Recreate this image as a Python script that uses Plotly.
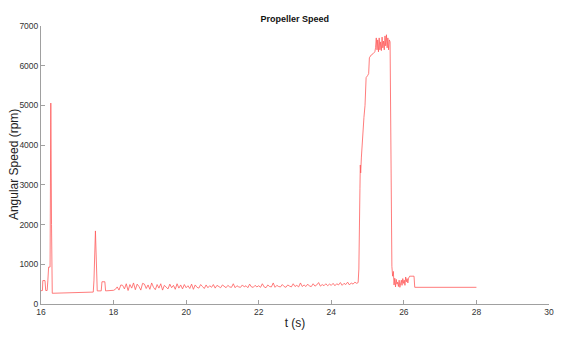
import numpy as np
import plotly.graph_objects as go

# start-up transient (time in s, speed in rpm)
t_start = [16.00, 16.04, 16.05, 16.11, 16.13, 16.17, 16.19, 16.21, 16.25, 16.27, 16.29, 16.31,
           17.44, 17.46, 17.50, 17.53, 17.55, 17.66, 17.68, 17.76, 17.78, 18.00]
speed_start = [335, 340, 590, 590, 340, 340, 600, 930, 930, 5060, 2000, 270,
               300, 600, 1840, 600, 330, 330, 560, 560, 330, 345]

# idle section, logged every 0.05 s from 18.05 s
noise_t0 = 18.05
noise_dt = 0.05
speed_idle = [
    370, 430, 350, 480, 470, 380, 510, 340, 490, 400, 530, 360, 500, 440, 350, 520, 500, 390, 480, 370,
    530, 420, 360, 490, 400, 510, 350, 470, 430, 380, 500, 410, 470, 370, 510, 400, 480, 380, 490, 410,
    460, 390, 500, 370, 480, 420, 400, 490, 440, 390, 480, 410, 460, 420, 490, 400, 470, 430, 410, 480,
    440, 410, 470, 430, 420, 510, 410, 460, 430, 420, 480, 430, 460, 410, 500, 430, 420, 470, 430, 460,
    420, 510, 430, 410, 480, 440, 430, 530, 420, 470, 440, 430, 490, 440, 420, 480, 450, 430, 510, 440,
    470, 430, 530, 440, 480, 440, 500, 450, 440, 510, 450, 480, 540, 450, 490, 460, 510, 460, 500, 470,
    520, 460, 510, 480, 540, 470, 520, 490, 550, 480, 530, 500, 550, 520,
]

# run-up, full speed and shutdown
t_run = [24.74, 24.76, 24.79, 24.80, 24.81, 24.83, 24.86, 24.90, 24.93, 24.96, 25.00, 25.03, 25.05,
         25.10, 25.15, 25.20, 25.22, 25.24, 25.26, 25.28, 25.30, 25.32, 25.34, 25.36, 25.38, 25.40,
         25.42, 25.44, 25.46, 25.48, 25.50, 25.52, 25.54, 25.56, 25.58, 25.60, 25.62, 25.64, 25.66,
         25.67, 25.69, 25.71, 25.73, 25.75, 25.77, 25.79, 25.81, 25.83, 25.85, 25.87, 25.89, 25.91,
         25.93, 25.95, 25.97, 25.99, 26.01, 26.03, 26.05, 26.07, 26.09, 26.11, 26.13, 26.16, 26.28,
         26.30, 28.00]
speed_run = [540, 880, 2900, 3500, 3300, 3700, 4300, 4700, 5000, 5700, 5750, 5800, 6200,
             6270, 6300, 6350, 6450, 6700, 6400, 6650, 6350, 6700, 6400, 6600, 6380, 6720,
             6450, 6620, 6400, 6750, 6500, 6780, 6450, 6700, 6400, 6650, 6600, 4000, 1500,
             950, 700, 820, 480, 650, 430, 620, 500, 550, 440, 600, 420, 520,
             600, 470, 640, 520, 600, 470, 680, 560, 640, 530, 650, 700, 700,
             420, 420]

t_idle = noise_t0 + noise_dt * np.arange(len(speed_idle))
t = np.concatenate([t_start, t_idle, t_run])
speed = np.concatenate([speed_start, speed_idle, speed_run])

fig = go.Figure(go.Scatter(x=t, y=speed, mode="lines",
                           line=dict(color="rgb(255,90,90)", width=0.8)))

axis_style = dict(showline=True, linecolor="#a0a0a0", linewidth=1, ticks="inside",
                  tickcolor="#a0a0a0", ticklen=4, showgrid=False, zeroline=False,
                  tickfont=dict(size=8.5, color="#333"), mirror=False, automargin=False)

# page body adds 8px offset, so the figure is a bit smaller than the window
fig.update_layout(
    width=560, height=334,
    margin=dict(l=33, r=19, t=18, b=38),
    paper_bgcolor="white", plot_bgcolor="white",
    font=dict(family="Liberation Sans, Arial, sans-serif", color="#222"),
    showlegend=False,
    title=dict(text="<b>Propeller Speed</b>", x=0.512, xanchor="center",
               y=0.967, yanchor="middle", font=dict(size=9, color="#111")),
    xaxis=dict(range=[16, 30], tickvals=[16, 18, 20, 22, 24, 26, 28, 30],
               title=dict(text="t (s)", font=dict(size=12), standoff=2), **axis_style),
    yaxis=dict(range=[0, 7000], tickvals=[0, 1000, 2000, 3000, 4000, 5000, 6000, 7000],
               **axis_style),
)
fig.add_annotation(text="Angular Speed (rpm)", textangle=-90, xref="paper", yref="paper",
                   x=-0.053, y=0.5, xanchor="center", yanchor="middle", showarrow=False,
                   font=dict(size=12, color="#222"))

fig.write_html("out.html")
